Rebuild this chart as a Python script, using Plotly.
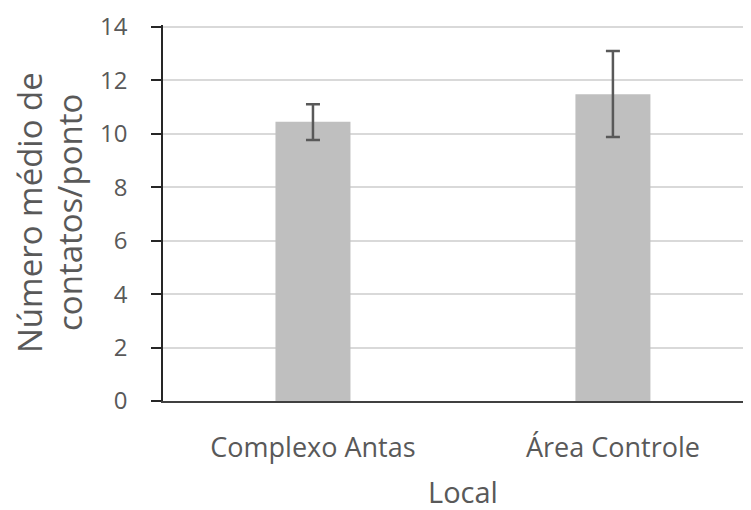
import plotly.graph_objects as go

locais = ["Complexo Antas", "Área Controle"]
medias = [10.45, 11.48]
erros_sup = [0.65, 1.62]
erros_inf = [0.68, 1.6]

titulo_y = ["Número médio de", "contatos/ponto"]
titulo_x = "Local"

fig = go.Figure()
fig.add_trace(go.Bar(
    x=locais,
    y=medias,
    marker=dict(color="#bfbfbf", line=dict(width=0)),
    width=0.25,
    error_y=dict(type="data", symmetric=False, array=erros_sup, arrayminus=erros_inf,
                 color="#595959", thickness=2.5, width=7),
))

# a página tem 8px de margem no body, por isso 743x502
fig.update_layout(
    width=743, height=502,
    margin=dict(l=155, r=1, t=17, b=109),
    paper_bgcolor="white", plot_bgcolor="white",
    font=dict(family="Open Sans", color="#595959", size=22),
    showlegend=False,
)
# o gráfico original está cortado à direita, por isso o range não é simétrico
fig.update_xaxes(
    range=[-0.5, 1.457],
    showline=True, linecolor="#404040", linewidth=2,
    tickfont=dict(size=27), ticks="", ticklabelstandoff=22,
    automargin=False,
)
fig.update_yaxes(
    range=[0, 14.07], tickvals=[0, 2, 4, 6, 8, 10, 12, 14],
    showline=True, linecolor="#262626", linewidth=1.5,
    gridcolor="#d9d9d9", gridwidth=2, zeroline=False,
    tickfont=dict(size=24), ticks="outside", ticklen=10, tickcolor="#262626", tickwidth=1.5,
    ticklabelstandoff=19, ticklabeloverflow="allow",
    automargin=False,
)

# títulos dos eixos como anotações para controlar o espaçamento das linhas
for linha, dx in zip(titulo_y, [-134, -94]):
    fig.add_annotation(
        text=linha, textangle=-90, xref="paper", yref="paper", x=0, y=0.5,
        xanchor="center", yanchor="middle", xshift=dx, showarrow=False,
        font=dict(size=33, color="#595959"),
    )
fig.add_annotation(
    text=titulo_x, xref="x", yref="paper", x=0.5, y=0,
    xanchor="center", yanchor="middle", yshift=-90, showarrow=False,
    font=dict(size=29, color="#595959"),
)

fig.write_html("out.html")
